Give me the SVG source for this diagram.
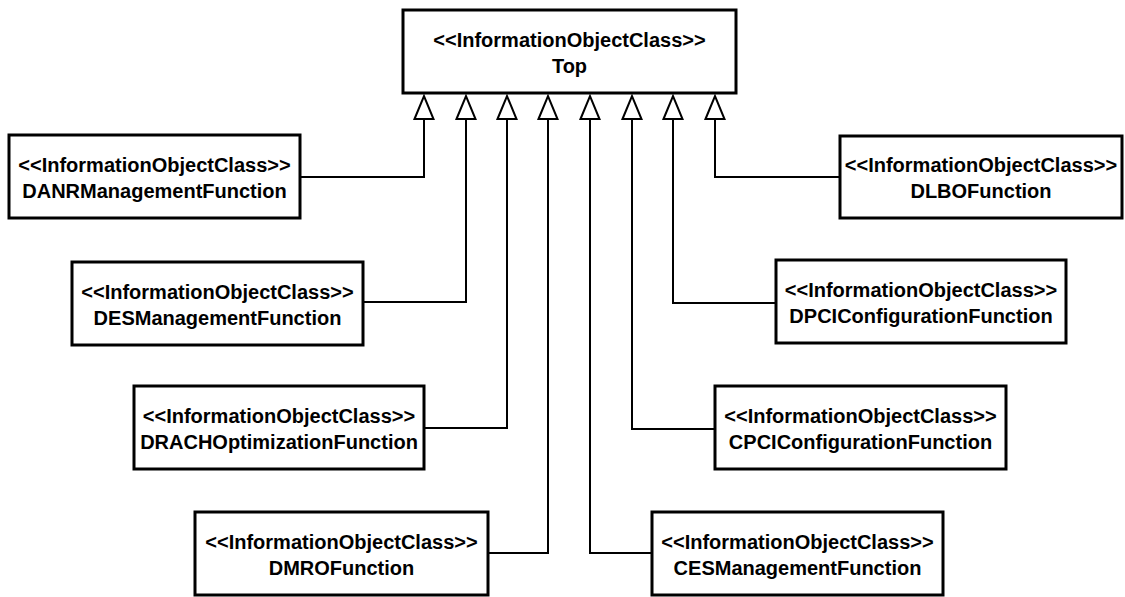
<svg xmlns="http://www.w3.org/2000/svg" width="1125" height="597" viewBox="0 0 1125 597">
<style>
.box{fill:#fff;stroke:#000;stroke-width:3}
.t{font-family:"Liberation Sans",Arial,sans-serif;font-weight:bold;font-size:20px;text-anchor:middle;fill:#000}
.c{fill:none;stroke:#000;stroke-width:2;marker-end:url(#gen)}
</style>
<defs>
<marker id="gen" markerUnits="userSpaceOnUse" markerWidth="23" markerHeight="19" viewBox="0 0 23 19" refX="23" refY="9.5" orient="auto" overflow="visible">
<path d="M0,0 L23,9.5 L0,19 Z" fill="#fff" stroke="#000" stroke-width="2" stroke-linejoin="miter"/>
</marker>
</defs>
<rect width="1125" height="597" fill="#fff"/>
<g id="connectors">
<path class="c" d="M300,177 H424 V96"/>
<path class="c" d="M363,302 H466 V96"/>
<path class="c" d="M424,428 H507 V96"/>
<path class="c" d="M488,553 H548 V96"/>
<path class="c" d="M652,553 H590 V96"/>
<path class="c" d="M715,429 H632 V96"/>
<path class="c" d="M776,303 H673 V96"/>
<path class="c" d="M840,177 H715 V96"/>
</g>
<g id="top">
<rect class="box" x="403" y="10" width="333" height="83"/>
<text class="t" x="569.5" y="47">&lt;&lt;InformationObjectClass&gt;&gt;</text>
<text class="t" x="569.5" y="73">Top</text>
</g>
<g id="danr">
<rect class="box" x="9" y="135" width="291" height="83"/>
<text class="t" x="154.5" y="172">&lt;&lt;InformationObjectClass&gt;&gt;</text>
<text class="t" x="154.5" y="198">DANRManagementFunction</text>
</g>
<g id="des">
<rect class="box" x="72" y="262" width="291" height="83"/>
<text class="t" x="217.5" y="299">&lt;&lt;InformationObjectClass&gt;&gt;</text>
<text class="t" x="217.5" y="325">DESManagementFunction</text>
</g>
<g id="drach">
<rect class="box" x="134" y="386" width="290" height="83"/>
<text class="t" x="279" y="423">&lt;&lt;InformationObjectClass&gt;&gt;</text>
<text class="t" x="279" y="449">DRACHOptimizationFunction</text>
</g>
<g id="dmro">
<rect class="box" x="195" y="512" width="293" height="83"/>
<text class="t" x="341.5" y="549">&lt;&lt;InformationObjectClass&gt;&gt;</text>
<text class="t" x="341.5" y="575">DMROFunction</text>
</g>
<g id="dlbo">
<rect class="box" x="840" y="136" width="282" height="82"/>
<text class="t" x="981" y="172">&lt;&lt;InformationObjectClass&gt;&gt;</text>
<text class="t" x="981" y="198">DLBOFunction</text>
</g>
<g id="dpci">
<rect class="box" x="776" y="260" width="290" height="83"/>
<text class="t" x="921" y="297">&lt;&lt;InformationObjectClass&gt;&gt;</text>
<text class="t" x="921" y="323">DPCIConfigurationFunction</text>
</g>
<g id="cpci">
<rect class="box" x="715" y="386" width="291" height="83"/>
<text class="t" x="860.5" y="423">&lt;&lt;InformationObjectClass&gt;&gt;</text>
<text class="t" x="860.5" y="449">CPCIConfigurationFunction</text>
</g>
<g id="ces">
<rect class="box" x="652" y="512" width="291" height="83"/>
<text class="t" x="797.5" y="549">&lt;&lt;InformationObjectClass&gt;&gt;</text>
<text class="t" x="797.5" y="575">CESManagementFunction</text>
</g>
</svg>
